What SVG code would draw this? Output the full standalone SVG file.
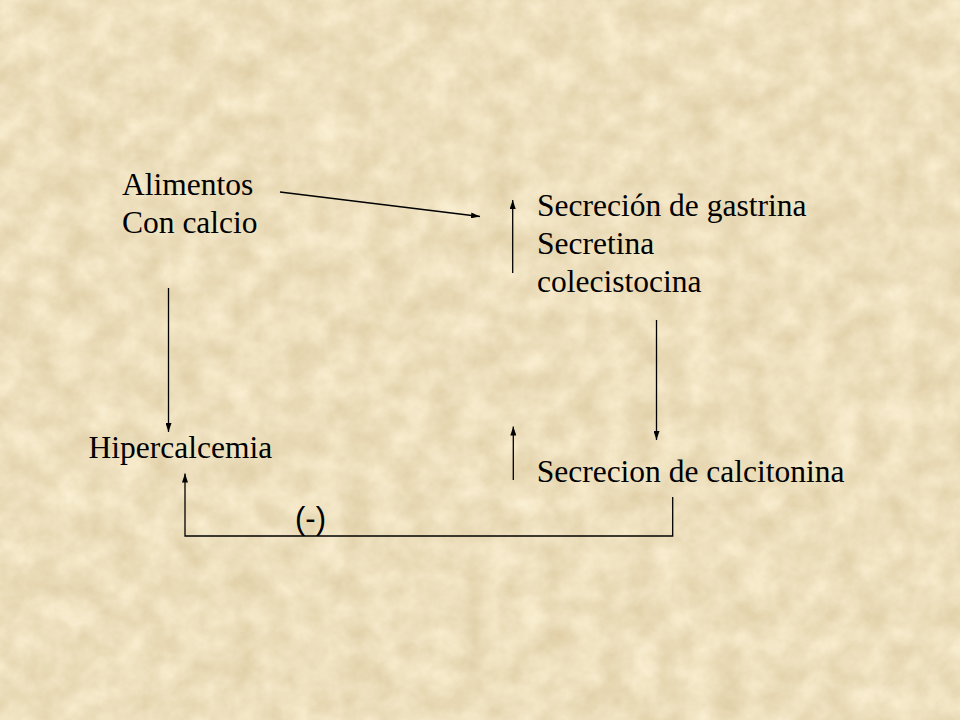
<svg xmlns="http://www.w3.org/2000/svg" width="960" height="720" viewBox="0 0 960 720">
  <defs>
    <style>
      .lbl { font-family: "Liberation Serif", "Times New Roman", serif; font-size: 31.5px; fill: #000; }
      .sign { font-family: "Liberation Sans", Arial, sans-serif; font-size: 31px; fill: #000; }
      .conn { stroke: #000; stroke-width: 1.3; fill: none; }
    </style>
    <marker id="arr" viewBox="0 0 9 6" refX="9" refY="3" markerWidth="9" markerHeight="6" markerUnits="userSpaceOnUse" orient="auto">
      <path d="M0,0 L9,3 L0,6 Z" fill="#000"/>
    </marker>
    <filter id="paper" x="0" y="0" width="100%" height="100%" color-interpolation-filters="sRGB">
      <feTurbulence type="fractalNoise" baseFrequency="0.035" numOctaves="4" seed="11" result="n"/>
      <feColorMatrix in="n" type="matrix" values="0.12 0 0 0 0.87  0.15 0 0 0 0.80  0.2 0 0 0 0.64  0 0 0 0 1"/>
    </filter>
  </defs>

  <rect id="background" x="0" y="0" width="960" height="720" fill="#EBDCBC"/>
  <rect x="0" y="0" width="960" height="720" filter="url(#paper)"/>

  <g id="connectors">
    <line class="conn" x1="280" y1="192" x2="480" y2="216.5" marker-end="url(#arr)"/>
    <line class="conn" x1="512.7" y1="273" x2="512.7" y2="200" marker-end="url(#arr)"/>
    <line class="conn" x1="168.5" y1="288" x2="168.5" y2="432" marker-end="url(#arr)"/>
    <line class="conn" x1="656.5" y1="320" x2="656.5" y2="440" marker-end="url(#arr)"/>
    <line class="conn" x1="513.3" y1="480" x2="513.3" y2="426.5" marker-end="url(#arr)"/>
    <polyline class="conn" points="672.7,497 672.7,536 185,536 185,473.5" marker-end="url(#arr)"/>
  </g>

  <g id="node-alimentos">
    <text class="lbl" x="122" y="195">Alimentos</text>
    <text class="lbl" x="122" y="233">Con calcio</text>
  </g>

  <g id="node-secrecion-gastrina">
    <text class="lbl" x="537" y="216">Secreción de gastrina</text>
    <text class="lbl" x="537" y="254">Secretina</text>
    <text class="lbl" x="537" y="292">colecistocina</text>
  </g>

  <g id="node-hipercalcemia">
    <text class="lbl" x="88.5" y="458">Hipercalcemia</text>
  </g>

  <g id="node-calcitonina">
    <text class="lbl" x="536.7" y="482">Secrecion de calcitonina</text>
  </g>

  <g id="label-negative">
    <text class="sign" x="295" y="529">(-)</text>
  </g>
</svg>
